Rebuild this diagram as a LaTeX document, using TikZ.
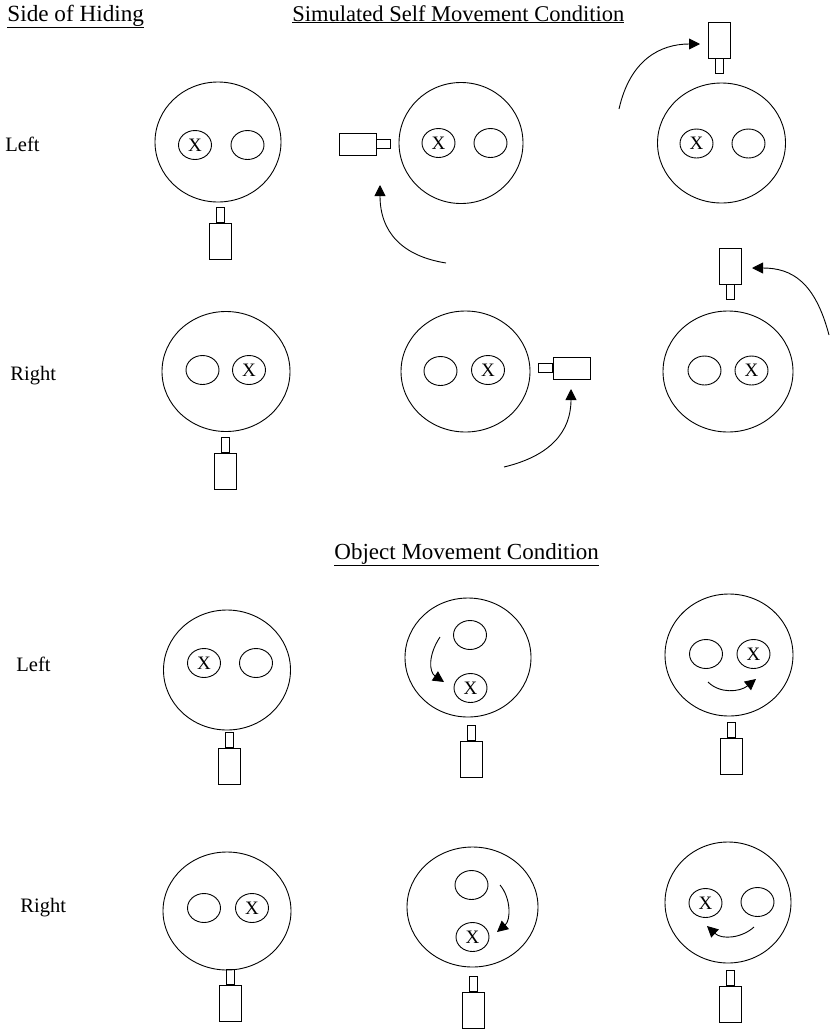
\documentclass[tikz,border=0pt]{standalone}
\usepackage{fontspec}
\setmainfont{Liberation Serif}
\usetikzlibrary{shapes.geometric,arrows.meta}

\tikzset{
  plate/.style={draw, ellipse, inner sep=0pt, minimum width=128pt, minimum height=120pt},
  cup/.style={draw, ellipse, inner sep=0pt, minimum width=33pt, minimum height=29pt,
              font=\fontsize{19}{19}\selectfont},
  bodyv/.style={draw, rectangle, inner sep=0pt, minimum width=22pt, minimum height=36pt},
  lensv/.style={draw, rectangle, inner sep=0pt, minimum width=8pt, minimum height=15pt},
  bodyh/.style={draw, rectangle, inner sep=0pt, minimum width=37pt, minimum height=22pt},
  lensh/.style={draw, rectangle, inner sep=0pt, minimum width=14pt, minimum height=9pt},
  move/.style={-{Triangle[length=11pt,width=11pt]}},
  title/.style={anchor=base west, inner sep=0pt, font=\fontsize{22.5}{27}\selectfont},
  rowlabel/.style={anchor=base west, inner sep=0pt, font=\fontsize{20.5}{24}\selectfont},
}

\begin{document}
\begin{tikzpicture}[x=1pt, y=-1pt, line width=0.9pt]
\useasboundingbox (0,0) rectangle (832,1029);

% headings
\node[title, font=\fontsize{23.2}{27}\selectfont] (hside) at (7,21) {\underline{Side of Hiding}};
\node[title] (hself) at (292,21) {\underline{Simulated Self Movement Condition}};
\node[title, font=\fontsize{23}{27}\selectfont] (hobj) at (334,559) {\underline{Object Movement Condition}};

% row labels
\node[rowlabel] (l1) at (5,151) {Left};
\node[rowlabel] (l2) at (10,380) {Right};
\node[rowlabel] (l3) at (16,671) {Left};
\node[rowlabel] (l4) at (20,912) {Right};

% ---------- simulated self movement, object hidden left ----------
\node[plate, minimum width=126pt] (a1) at (218,142) {};
\node[cup] (a1x) at (195,145) {X};
\node[cup] (a1o) at (247.5,145) {};
\node[bodyv] (a1b) at (220.5,241.5) {};
\node[lensv, anchor=south] (a1l) at (a1b.north) {};

\node[plate, minimum width=124pt, minimum height=121pt] (a2) at (461,143) {};
\node[cup] (a2x) at (438.5,143) {X};
\node[cup] (a2o) at (490.5,143) {};
\node[bodyh] (a2b) at (357.5,144) {};
\node[lensh, anchor=west] (a2l) at (a2b.east) {};
\coordinate (a2s) at (446,263);
\coordinate (a2e) at (380,185);
\draw[move] (a2s) .. controls (402,256) and (380,232) .. (a2e);

\node[plate] (a3) at (721.5,143) {};
\node[cup] (a3x) at (696.5,143.5) {X};
\node[cup] (a3o) at (748.5,143.5) {};
\node[bodyv] (a3b) at (719,40) {};
\node[lensv, anchor=north] (a3l) at (a3b.south) {};
\coordinate (a3s) at (619,109);
\coordinate (a3e) at (700,44);
\draw[move] (a3s) .. controls (630,60) and (660,44) .. (a3e);

% ---------- simulated self movement, object hidden right ----------
\node[plate] (b1) at (226,371.5) {};
\node[cup] (b1o) at (202.5,370) {};
\node[cup] (b1x) at (249,370) {X};
\node[bodyv] (b1b) at (225.5,471) {};
\node[lensv, anchor=south] (b1l) at (b1b.north) {};

\node[plate, minimum width=129pt, minimum height=121pt] (b2) at (465.5,371.5) {};
\node[cup] (b2o) at (440.5,371) {};
\node[cup] (b2x) at (488,370) {X};
\node[bodyh] (b2b) at (572,368) {};
\node[lensh, anchor=east] (b2l) at (b2b.west) {};
\coordinate (b2s) at (504,467);
\coordinate (b2e) at (571,389);
\draw[move] (b2s) .. controls (550,456) and (571,432) .. (b2e);

\node[plate, minimum width=130pt, minimum height=121pt] (b3) at (728,371.5) {};
\node[cup] (b3o) at (704.5,370.5) {};
\node[cup] (b3x) at (751.5,370.5) {X};
\node[bodyv] (b3b) at (730,266) {};
\node[lensv, anchor=north] (b3l) at (b3b.south) {};
\coordinate (b3s) at (829,335);
\coordinate (b3e) at (752,268);
\draw[move] (b3s) .. controls (815,282) and (792,268) .. (b3e);

% ---------- object movement, object hidden left ----------
\node[plate, minimum width=127pt] (c1) at (227,670) {};
\node[cup] (c1x) at (204,663) {X};
\node[cup] (c1o) at (256,663) {};
\node[bodyv] (c1b) at (229.5,766) {};
\node[lensv, anchor=south] (c1l) at (c1b.north) {};

\node[plate, minimum width=126pt, minimum height=119pt] (c2) at (468,657.5) {};
\node[cup] (c2o) at (470,635) {};
\node[cup] (c2x) at (470.5,688) {X};
\node[bodyv] (c2b) at (471.5,759) {};
\node[lensv, anchor=south] (c2l) at (c2b.north) {};
\coordinate (c2s) at (440,637);
\coordinate (c2e) at (444,682);
\draw[move] (c2s) .. controls (428,655) and (429,672) .. (c2e);

\node[plate, minimum height=122pt] (c3) at (729,655) {};
\node[cup] (c3o) at (706,654) {};
\node[cup] (c3x) at (753.5,654) {X};
\node[bodyv] (c3b) at (731.5,756.5) {};
\node[lensv, anchor=south] (c3l) at (c3b.north) {};
\coordinate (c3s) at (708,682);
\coordinate (c3e) at (756,679);
\draw[move] (c3s) .. controls (720,694) and (740,692) .. (c3e);

% ---------- object movement, object hidden right ----------
\node[plate, minimum height=118pt] (d1) at (227,911) {};
\node[cup] (d1o) at (204,908) {};
\node[cup] (d1x) at (252,908) {X};
\node[bodyv] (d1b) at (230.5,1003.5) {};
\node[lensv, anchor=south] (d1l) at (d1b.north) {};

\node[plate, minimum width=131pt] (d2) at (472.5,907) {};
\node[cup] (d2o) at (471.5,885) {};
\node[cup] (d2x) at (472.5,937) {X};
\node[bodyv] (d2b) at (473.5,1010) {};
\node[lensv, anchor=south] (d2l) at (d2b.north) {};
\coordinate (d2s) at (500,885);
\coordinate (d2e) at (497,932);
\draw[move] (d2s) .. controls (511,898) and (511,920) .. (d2e);

\node[plate, minimum width=126pt, minimum height=121pt] (d3) at (728,902.5) {};
\node[cup] (d3x) at (705.5,903) {X};
\node[cup] (d3o) at (757.5,902) {};
\node[bodyv] (d3b) at (730.5,1004) {};
\node[lensv, anchor=south] (d3l) at (d3b.north) {};
\coordinate (d3s) at (754,927);
\coordinate (d3e) at (707,926);
\draw[move] (d3s) .. controls (742,938) and (722,940) .. (d3e);
\end{tikzpicture}
\end{document}
